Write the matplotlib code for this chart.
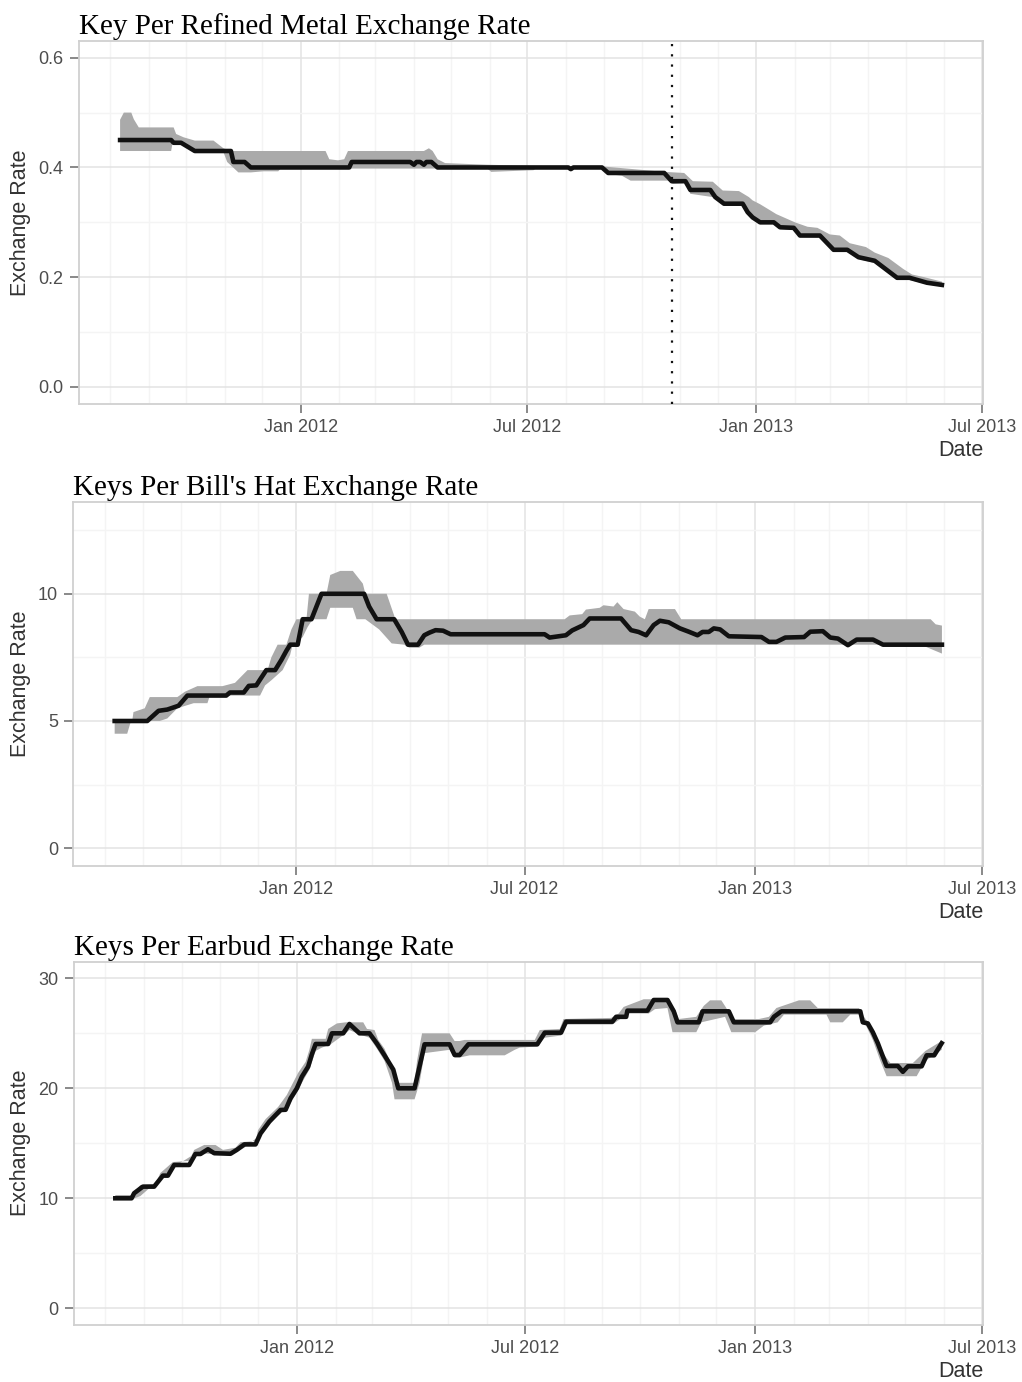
import matplotlib
matplotlib.use("Agg")
import matplotlib.pyplot as plt
import matplotlib.dates as mdates
import matplotlib.ticker as mticker
import numpy as np
import pandas as pd

plt.rcParams["font.family"] = ["Liberation Sans", "DejaVu Sans"]

# ---------------- Panel 1: Key per Refined Metal ----------------
metal_title = "Key Per Refined Metal Exchange Rate"
metal_line_dates = ["2011-08-09", "2011-09-19", "2011-09-21", "2011-09-27", "2011-10-08",
                    "2011-11-06", "2011-11-08", "2011-11-17", "2011-11-22", "2012-02-09",
                    "2012-02-11", "2012-03-29", "2012-04-01", "2012-04-03", "2012-04-06",
                    "2012-04-09", "2012-04-11", "2012-04-15", "2012-04-20", "2012-08-03",
                    "2012-08-05", "2012-08-07", "2012-08-30", "2012-09-04", "2012-10-19",
                    "2012-10-25", "2012-11-05", "2012-11-09", "2012-11-25", "2012-11-29",
                    "2012-12-06", "2012-12-21", "2012-12-25", "2012-12-29", "2013-01-04",
                    "2013-01-15", "2013-01-20", "2013-01-31", "2013-02-05", "2013-02-21",
                    "2013-03-04", "2013-03-15", "2013-03-24", "2013-04-06", "2013-04-24",
                    "2013-05-04", "2013-05-18", "2013-05-30"]
metal_line_vals = [0.45, 0.45, 0.445, 0.445, 0.43,
                   0.43, 0.41, 0.41, 0.40, 0.40,
                   0.41, 0.41, 0.405, 0.41, 0.41,
                   0.405, 0.41, 0.41, 0.40, 0.40,
                   0.397, 0.40, 0.40, 0.39, 0.39,
                   0.375, 0.375, 0.359, 0.359, 0.346,
                   0.334, 0.334, 0.3185, 0.309, 0.300,
                   0.300, 0.291, 0.290, 0.276, 0.276,
                   0.25, 0.25, 0.2365, 0.230, 0.199,
                   0.199, 0.19, 0.186]
metal_hi_dates = ["2011-08-09", "2011-08-12", "2011-08-18", "2011-08-20", "2011-08-24",
                  "2011-09-21", "2011-09-23", "2011-09-29", "2011-10-08", "2011-10-23",
                  "2011-10-31", "2011-11-06", "2012-01-21", "2012-01-24", "2012-01-31",
                  "2012-02-05", "2012-02-08", "2012-04-09", "2012-04-13", "2012-04-16",
                  "2012-04-20", "2012-04-26", "2012-05-30", "2012-07-06", "2012-08-29",
                  "2012-09-04", "2012-10-19", "2012-11-04", "2012-11-11", "2012-11-27",
                  "2012-12-05", "2012-12-18", "2012-12-26", "2012-12-29", "2013-01-04",
                  "2013-01-12", "2013-01-17", "2013-01-27", "2013-02-01", "2013-02-11",
                  "2013-02-19", "2013-03-01", "2013-03-09", "2013-03-17", "2013-03-30",
                  "2013-04-06", "2013-04-17", "2013-04-29", "2013-05-06", "2013-05-16",
                  "2013-05-30"]
metal_hi_vals = [0.487, 0.50, 0.50, 0.488, 0.473,
                 0.473, 0.461, 0.455, 0.449, 0.449,
                 0.435, 0.43, 0.43, 0.415, 0.413,
                 0.415, 0.43, 0.43, 0.435, 0.43,
                 0.415, 0.408, 0.405, 0.403, 0.402,
                 0.401, 0.392, 0.39, 0.375, 0.374,
                 0.358, 0.357, 0.346, 0.340, 0.333,
                 0.322, 0.315, 0.305, 0.300, 0.292,
                 0.290, 0.278, 0.276, 0.262, 0.255,
                 0.245, 0.235, 0.215, 0.205, 0.200,
                 0.192]
metal_lo_dates = ["2011-08-09", "2011-09-19", "2011-09-20", "2011-09-27", "2011-10-08",
                  "2011-10-31", "2011-11-03", "2011-11-12", "2011-11-22", "2011-12-02",
                  "2011-12-14", "2011-12-16", "2012-05-30", "2012-06-02", "2012-07-06",
                  "2012-07-08", "2012-08-31", "2012-09-04", "2012-09-15", "2012-09-22",
                  "2012-10-22", "2012-10-26", "2012-11-05", "2012-11-09", "2012-11-27",
                  "2012-12-05", "2012-12-21", "2012-12-25", "2012-12-29", "2013-01-04",
                  "2013-01-15", "2013-01-20", "2013-01-31", "2013-02-05", "2013-02-21",
                  "2013-03-04", "2013-03-15", "2013-03-24", "2013-04-06", "2013-04-24",
                  "2013-05-04", "2013-05-18", "2013-05-30"]
metal_lo_vals = [0.43, 0.43, 0.443, 0.443, 0.428,
                 0.428, 0.41, 0.391, 0.391, 0.393,
                 0.393, 0.398, 0.398, 0.392, 0.395,
                 0.398, 0.398, 0.388, 0.385, 0.376,
                 0.376, 0.37, 0.372, 0.352, 0.346,
                 0.332, 0.330, 0.316, 0.306, 0.297,
                 0.297, 0.288, 0.286, 0.273, 0.272,
                 0.247, 0.246, 0.233, 0.226, 0.196,
                 0.195, 0.187, 0.183]
metal_event_date = "2012-10-25"
metal_yticks = [0.0, 0.2, 0.4, 0.6]
metal_ylabels = ["0.0", "0.2", "0.4", "0.6"]
metal_yminor = [0.1, 0.3, 0.5]
metal_ylim = (-0.031, 0.631)

# ---------------- Panel 2: Keys per Bill's Hat ----------------
hat_title = "Keys Per Bill's Hat Exchange Rate"
hat_line_dates = ["2011-08-09", "2011-09-04", "2011-09-13", "2011-09-20", "2011-09-29",
                  "2011-10-06", "2011-11-06", "2011-11-09", "2011-11-20", "2011-11-24",
                  "2011-11-30", "2011-12-03", "2011-12-08", "2011-12-15", "2011-12-20",
                  "2011-12-24", "2011-12-27", "2012-01-02", "2012-01-06", "2012-01-13",
                  "2012-01-17", "2012-01-21", "2012-02-24", "2012-02-28", "2012-03-05",
                  "2012-03-19", "2012-03-25", "2012-03-30", "2012-04-07", "2012-04-12",
                  "2012-04-16", "2012-04-21", "2012-04-27", "2012-05-03", "2012-07-17",
                  "2012-07-21", "2012-08-03", "2012-08-08", "2012-08-17", "2012-08-22",
                  "2012-09-16", "2012-09-24", "2012-09-30", "2012-10-06", "2012-10-12",
                  "2012-10-17", "2012-10-24", "2012-11-02", "2012-11-09", "2012-11-16",
                  "2012-11-20", "2012-11-25", "2012-11-29", "2012-12-04", "2012-12-11",
                  "2013-01-06", "2013-01-12", "2013-01-18", "2013-01-25", "2013-02-09",
                  "2013-02-14", "2013-02-24", "2013-03-02", "2013-03-08", "2013-03-16",
                  "2013-03-23", "2013-04-05", "2013-04-13", "2013-05-30"]
hat_line_vals = [5.0, 5.0, 5.4, 5.45, 5.6,
                 6.0, 6.0, 6.12, 6.12, 6.38,
                 6.4, 6.63, 7.0, 7.0, 7.4,
                 7.76, 8.0, 8.0, 9.0, 9.0,
                 9.5, 10.0, 10.0, 9.5, 9.0,
                 9.0, 8.5, 8.0, 8.0, 8.37,
                 8.47, 8.57, 8.55, 8.41, 8.41,
                 8.28, 8.37, 8.56, 8.77, 9.03,
                 9.03, 8.57, 8.5, 8.37, 8.77,
                 8.94, 8.88, 8.64, 8.51, 8.37,
                 8.5, 8.5, 8.64, 8.6, 8.33,
                 8.3, 8.11, 8.11, 8.28, 8.3,
                 8.51, 8.53, 8.28, 8.24, 7.98,
                 8.2, 8.2, 8.0, 8.0]
hat_hi_dates = ["2011-08-09", "2011-08-23", "2011-08-24", "2011-09-02", "2011-09-06",
                "2011-09-28", "2011-10-04", "2011-10-14", "2011-11-03", "2011-11-13",
                "2011-11-23", "2011-12-09", "2011-12-12", "2011-12-17", "2011-12-24",
                "2011-12-28", "2012-01-01", "2012-01-09", "2012-01-11", "2012-01-25",
                "2012-01-28", "2012-02-05", "2012-02-15", "2012-02-23", "2012-02-25",
                "2012-03-13", "2012-03-20", "2012-08-02", "2012-08-06", "2012-08-16",
                "2012-08-19", "2012-08-30", "2012-09-02", "2012-09-10", "2012-09-13",
                "2012-09-18", "2012-09-27", "2012-10-01", "2012-10-05", "2012-10-08",
                "2012-10-29", "2012-11-03", "2013-05-21", "2013-05-25", "2013-05-30"]
hat_hi_vals = [5.0, 5.0, 5.35, 5.5, 5.94,
               5.94, 6.15, 6.37, 6.37, 6.5,
               7.0, 7.0, 7.5, 8.0, 8.0,
               8.6, 9.0, 9.0, 10.0, 10.0,
               10.74, 10.9, 10.9, 10.4, 10.0,
               10.0, 9.0, 9.0, 9.15, 9.2,
               9.38, 9.45, 9.55, 9.5, 9.67,
               9.4, 9.3, 9.1, 9.0, 9.4,
               9.4, 9.0, 9.0, 8.8, 8.75]
hat_lo_dates = ["2011-08-09", "2011-08-19", "2011-08-22", "2011-09-14", "2011-09-20",
                "2011-09-28", "2011-10-11", "2011-10-22", "2011-10-24", "2011-12-03",
                "2011-12-07", "2011-12-12", "2011-12-21", "2011-12-27", "2011-12-29",
                "2012-01-06", "2012-01-10", "2012-01-14", "2012-01-25", "2012-01-28",
                "2012-02-15", "2012-02-18", "2012-02-25", "2012-03-07", "2012-03-17",
                "2012-03-27", "2012-03-31", "2012-04-08", "2012-04-12", "2013-05-13",
                "2013-05-30"]
hat_lo_vals = [4.5, 4.5, 5.0, 5.0, 5.1,
               5.5, 5.7, 5.7, 6.0, 6.0,
               6.4, 6.6, 7.0, 7.6, 8.0,
               8.3, 8.7, 9.0, 9.0, 9.45,
               9.45, 9.0, 9.0, 8.6, 8.05,
               8.0, 7.88, 7.88, 8.0, 8.0,
               7.65]
hat_yticks = [0, 5, 10]
hat_ylabels = ["0", "5", "10"]
hat_yminor = [2.5, 7.5, 12.5]
hat_ylim = (-0.68, 13.62)

# ---------------- Panel 3: Keys per Earbud ----------------
bud_title = "Keys Per Earbud Exchange Rate"
bud_line_dates = ["2011-08-09", "2011-08-22", "2011-08-24", "2011-08-31", "2011-09-09",
                  "2011-09-16", "2011-09-20", "2011-09-25", "2011-10-07", "2011-10-12",
                  "2011-10-16", "2011-10-22", "2011-10-27", "2011-11-09", "2011-11-14",
                  "2011-11-20", "2011-11-29", "2011-12-03", "2011-12-10", "2011-12-19",
                  "2011-12-23", "2011-12-27", "2012-01-01", "2012-01-05", "2012-01-10",
                  "2012-01-13", "2012-01-16", "2012-01-26", "2012-01-29", "2012-02-07",
                  "2012-02-12", "2012-02-20", "2012-02-28", "2012-03-05", "2012-03-11",
                  "2012-03-18", "2012-03-22", "2012-04-04", "2012-04-08", "2012-04-12",
                  "2012-05-02", "2012-05-06", "2012-05-10", "2012-05-17", "2012-07-11",
                  "2012-07-17", "2012-07-30", "2012-08-03", "2012-09-09", "2012-09-12",
                  "2012-09-20", "2012-09-21", "2012-10-07", "2012-10-12", "2012-10-23",
                  "2012-10-28", "2012-10-31", "2012-11-17", "2012-11-20", "2012-12-11",
                  "2012-12-15", "2013-01-13", "2013-01-16", "2013-01-22", "2013-03-26",
                  "2013-03-28", "2013-04-01", "2013-04-05", "2013-04-09", "2013-04-12",
                  "2013-04-16", "2013-04-25", "2013-04-29", "2013-05-03", "2013-05-14",
                  "2013-05-18", "2013-05-24", "2013-05-30"]
bud_line_vals = [10.0, 10.0, 10.46, 11.06, 11.06,
                 12.06, 12.06, 13.03, 13.03, 14.03,
                 14.03, 14.46, 14.1, 14.05, 14.4,
                 14.9, 14.9, 15.9, 16.97, 18.03,
                 18.05, 19.1, 20.0, 21.06, 21.97,
                 23.1, 24.03, 24.03, 25.0, 25.0,
                 25.85, 25.0, 25.0, 24.06, 23.0,
                 21.7, 20.0, 20.0, 22.0, 24.0,
                 24.0, 23.03, 23.03, 24.0, 24.0,
                 25.06, 25.06, 26.06, 26.06, 26.5,
                 26.5, 27.06, 27.06, 28.03, 28.03,
                 27.0, 26.0, 26.0, 27.0, 27.0,
                 26.0, 26.0, 26.5, 27.0, 27.0,
                 26.0, 25.9, 25.1, 24.1, 23.2,
                 22.03, 22.03, 21.5, 22.0, 22.0,
                 23.0, 23.0, 24.1]
bud_hi_dates = ["2011-08-09", "2011-08-22", "2011-08-24", "2011-08-29", "2011-09-10",
                "2011-09-14", "2011-09-24", "2011-10-07", "2011-10-11", "2011-10-19",
                "2011-10-28", "2011-11-03", "2011-11-13", "2011-11-17", "2011-11-29",
                "2011-12-01", "2011-12-07", "2011-12-17", "2011-12-24", "2011-12-28",
                "2012-01-02", "2012-01-08", "2012-01-11", "2012-01-13", "2012-01-24",
                "2012-01-26", "2012-02-02", "2012-02-09", "2012-02-23", "2012-02-26",
                "2012-03-03", "2012-03-06", "2012-03-11", "2012-03-16", "2012-03-19",
                "2012-04-04", "2012-04-06", "2012-04-09", "2012-04-10", "2012-05-02",
                "2012-05-06", "2012-05-10", "2012-05-14", "2012-07-09", "2012-07-13",
                "2012-07-29", "2012-08-01", "2012-09-08", "2012-09-14", "2012-09-18",
                "2012-10-04", "2012-10-23", "2012-10-29", "2012-11-01", "2012-11-15",
                "2012-11-21", "2012-11-26", "2012-12-05", "2012-12-09", "2012-12-13",
                "2013-01-04", "2013-01-12", "2013-01-18", "2013-02-05", "2013-02-14",
                "2013-02-20", "2013-03-25", "2013-03-29", "2013-04-07", "2013-04-13",
                "2013-04-19", "2013-05-07", "2013-05-17", "2013-05-30"]
bud_hi_vals = [10.3, 10.3, 10.6, 11.2, 11.3,
               12.3, 13.3, 13.4, 14.4, 14.85,
               14.85, 14.4, 14.6, 15.1, 15.2,
               16.2, 17.2, 18.3, 19.4, 20.3,
               21.4, 22.4, 23.5, 24.5, 24.5,
               25.4, 25.9, 26.0, 26.0, 25.4,
               25.3, 24.4, 23.6, 22.3, 20.5,
               20.5, 22.5, 24.4, 25.0, 25.0,
               24.3, 24.3, 24.4, 24.4, 25.3,
               25.4, 26.3, 26.4, 26.8, 27.4,
               28.1, 28.1, 27.2, 26.3, 26.5,
               27.5, 28.0, 28.0, 27.3, 26.3,
               26.3, 26.5, 27.3, 28.0, 28.0,
               27.3, 27.3, 26.5, 25.0, 23.2,
               22.3, 22.3, 23.4, 24.3]
bud_lo_dates = ["2011-08-09", "2011-08-22", "2011-08-29", "2011-09-14", "2011-09-24",
                "2011-10-08", "2011-10-16", "2011-11-09", "2011-11-20", "2011-12-01",
                "2011-12-07", "2011-12-19", "2011-12-27", "2012-01-01", "2012-01-06",
                "2012-01-11", "2012-01-16", "2012-01-21", "2012-01-28", "2012-02-09",
                "2012-02-12", "2012-02-20", "2012-02-28", "2012-03-05", "2012-03-11",
                "2012-03-17", "2012-03-19", "2012-04-04", "2012-04-08", "2012-04-12",
                "2012-05-02", "2012-05-06", "2012-05-10", "2012-05-18", "2012-06-15",
                "2012-06-23", "2012-06-27", "2012-07-11", "2012-07-17", "2012-07-30",
                "2012-08-03", "2012-09-09", "2012-09-14", "2012-09-22", "2012-10-08",
                "2012-10-13", "2012-10-23", "2012-10-27", "2012-11-15", "2012-11-19",
                "2012-12-08", "2012-12-13", "2013-01-01", "2013-01-08", "2013-01-19",
                "2013-01-24", "2013-02-27", "2013-03-02", "2013-03-12", "2013-03-18",
                "2013-03-26", "2013-03-31", "2013-04-05", "2013-04-11", "2013-04-16",
                "2013-05-10", "2013-05-17", "2013-05-30"]
bud_lo_vals = [9.9, 9.9, 10.2, 11.8, 12.8,
               13.8, 14.1, 13.9, 14.6, 15.6,
               16.6, 17.7, 18.7, 19.6, 20.7,
               21.7, 23.4, 23.7, 24.0, 25.0,
               25.3, 24.9, 24.6, 23.6, 22.5,
               20.5, 19.0, 19.0, 20.5, 23.2,
               23.5, 22.8, 22.8, 23.0, 23.0,
               23.5, 23.7, 23.8, 24.6, 24.8,
               25.8, 25.8, 26.2, 26.8, 26.8,
               27.2, 27.3, 25.1, 25.1, 26.0,
               26.5, 25.1, 25.1, 25.7, 26.0,
               26.7, 26.7, 26.0, 26.0, 26.7,
               26.7, 25.6, 24.4, 22.5, 21.1,
               21.1, 22.5, 23.5]
bud_yticks = [0, 10, 20, 30]
bud_ylabels = ["0", "10", "20", "30"]
bud_yminor = [5, 15, 25]
bud_ylim = (-1.52, 31.53)

x_limits = ("2011-07-07", "2013-07-02")

W, H = 1022, 1382
fig = plt.figure(figsize=(W / 100, H / 100), dpi=100)

def px_axes(left, right, top, bottom):
    return fig.add_axes([left / W, 1 - bottom / H, (right - left) / W, (bottom - top) / H])

def d2n(dates):
    return mdates.date2num(pd.to_datetime(dates).to_pydatetime())

def draw_panel(ax, title, ld, lv, hd, hv, lod, lov, yticks, ylabels, yminor, ylim,
               ylabel_x, event=None):
    bx = np.concatenate([d2n(hd), d2n(lod)[::-1]])
    by = np.concatenate([np.array(hv), np.array(lov)[::-1]])
    ax.fill(bx, by, color="#AAAAAA", lw=0, zorder=2)
    ax.plot(d2n(ld), lv, color="#111111", lw=3.3, zorder=3, solid_joinstyle="round")
    if event is not None:
        ax.axvline(d2n([event])[0], color="#111111", lw=1.6, linestyle=(0, (1, 3.6)), zorder=4)
    ax.xaxis_date()
    ax.set_xlim(d2n(list(x_limits)))
    ax.set_ylim(*ylim)
    ax.xaxis.set_major_locator(mdates.MonthLocator(bymonth=[1, 7]))
    ax.xaxis.set_major_formatter(mdates.DateFormatter("%b %Y"))
    ax.xaxis.set_minor_locator(mdates.MonthLocator())
    ax.yaxis.set_major_locator(mticker.FixedLocator(yticks))
    ax.yaxis.set_major_formatter(mticker.FixedFormatter(ylabels))
    ax.yaxis.set_minor_locator(mticker.FixedLocator(yminor))
    ax.set_axisbelow(True)
    ax.grid(which="major", color="#E3E3E3", lw=1.1, zorder=0)
    ax.grid(which="minor", color="#F4F4F4", lw=1.0, zorder=0)
    ax.tick_params(which="major", length=6.5, width=1.3, color="#808080",
                   labelcolor="#4D4D4D", labelsize=13, pad=4.5)
    ax.tick_params(which="minor", length=0)
    for s in ax.spines.values():
        s.set_color("#D0D0D0")
        s.set_linewidth(1.3)
    ax.set_title(title, loc="left", fontfamily="Liberation Serif", fontsize=21, pad=5,
                 color="black")
    ax.set_ylabel("Exchange Rate", fontsize=15.5, color="#333333")
    ax.yaxis.set_label_coords(ylabel_x, 0.5)
    ax.set_xlabel("Date", fontsize=15.5, color="#333333", ha="right")
    ax.xaxis.set_label_coords(1.0, -0.1)

ax1 = px_axes(79, 983, 40.7, 404)
draw_panel(ax1, metal_title, metal_line_dates, metal_line_vals, metal_hi_dates, metal_hi_vals,
           metal_lo_dates, metal_lo_vals, metal_yticks, metal_ylabels, metal_yminor, metal_ylim,
           (31 - 79) / 904, event=metal_event_date)

ax2 = px_axes(73.3, 983.3, 501.7, 865.5)
draw_panel(ax2, hat_title, hat_line_dates, hat_line_vals, hat_hi_dates, hat_hi_vals,
           hat_lo_dates, hat_lo_vals, hat_yticks, hat_ylabels, hat_yminor, hat_ylim,
           (31.5 - 73.3) / 910)

ax3 = px_axes(74, 983, 961.5, 1325)
draw_panel(ax3, bud_title, bud_line_dates, bud_line_vals, bud_hi_dates, bud_hi_vals,
           bud_lo_dates, bud_lo_vals, bud_yticks, bud_ylabels, bud_yminor, bud_ylim,
           (31.5 - 74) / 909)

fig.savefig("out.png", dpi=100)
